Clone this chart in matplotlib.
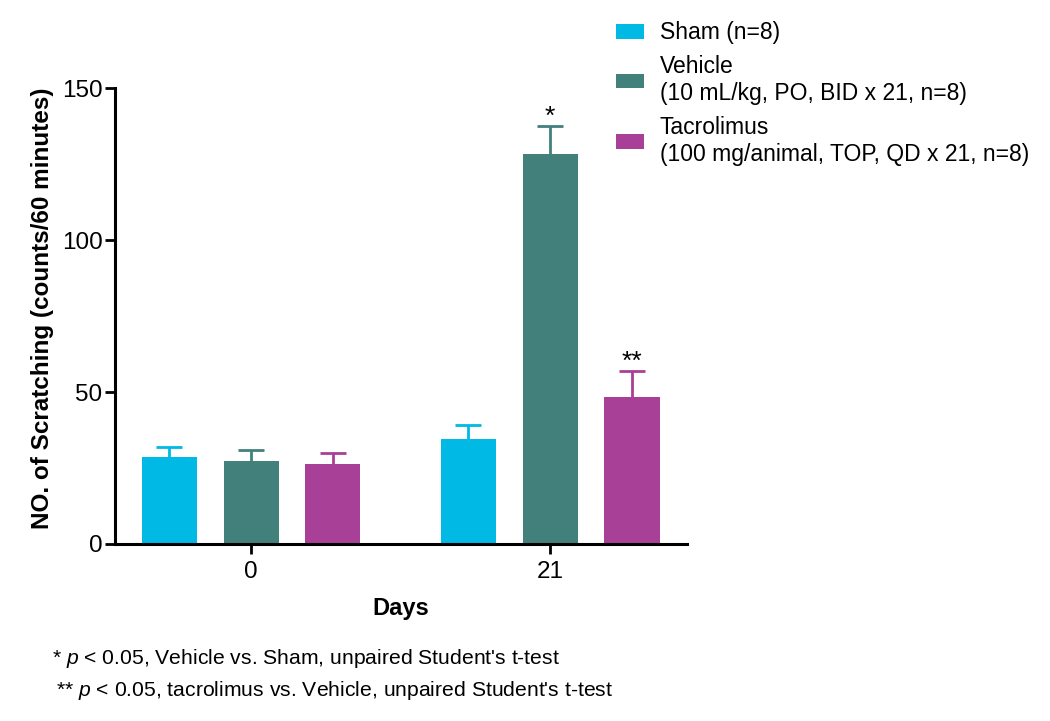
import matplotlib
matplotlib.use("Agg")
import matplotlib.pyplot as plt
import numpy as np

plt.rcParams['font.family'] = ['Liberation Sans', 'DejaVu Sans']
plt.rcParams['mathtext.fontset'] = 'custom'
plt.rcParams['mathtext.rm'] = 'Liberation Sans'
plt.rcParams['mathtext.it'] = 'Liberation Sans:italic'

# data
days = ['0', '21']
groups = ['Sham (n=8)',
          'Vehicle\n(10 mL/kg, PO, BID x 21, n=8)',
          'Tacrolimus\n(100 mg/animal, TOP, QD x 21, n=8)']
sham = [28.7, 34.4]
sham_err = [3.3, 4.7]
vehicle = [27.4, 128.3]
vehicle_err = [3.5, 9.2]
tacro = [26.3, 48.4]
tacro_err = [3.5, 8.5]
stars = [['', ''], ['', '*'], ['', '**']]

colors = ['#00B9E4', '#42807C', '#A94097']
means = [sham, vehicle, tacro]
errs = [sham_err, vehicle_err, tacro_err]

fig = plt.figure(figsize=(10.5, 7.21), dpi=100)
ax = fig.add_axes([0.1095, 0.2455, 0.5448, 0.6324])

x = np.arange(len(days))
offset = 0.274
width = 0.184
for i in range(3):
    xs = x + (i - 1) * offset
    ax.bar(xs, means[i], width, color=colors[i], label=groups[i], zorder=2)
    eb = ax.errorbar(xs, means[i], yerr=[np.zeros(len(days)), errs[i]], fmt='none',
                     ecolor=colors[i], elinewidth=2, capsize=9.5, capthick=2, zorder=1)
    eb[1][0].set_visible(False)  # no cap on the bar top
    for j in range(len(days)):
        if stars[i][j]:
            ax.text(xs[j], means[i][j] + errs[i][j] - 1.0, stars[i][j],
                    ha='center', va='bottom', fontsize=19)

ax.set_xlim(-0.455, 1.458)
ax.set_ylim(0, 150)
ax.set_yticks([0, 50, 100, 150])
ax.set_xticks(x)
ax.set_xticklabels(days)
for s in ['top', 'right']:
    ax.spines[s].set_visible(False)
for s in ['left', 'bottom']:
    ax.spines[s].set_linewidth(2.2)
ax.tick_params(axis='both', width=2, length=7, labelsize=17.5)
ax.tick_params(axis='y', pad=2)
ax.tick_params(axis='x', pad=5)
ax.set_xlabel('Days', fontsize=17, fontweight='bold', labelpad=10)
ax.set_ylabel('NO. of Scratching (counts/60 minutes)', fontsize=17.5,
              fontweight='bold')
ax.yaxis.set_label_coords(-0.107, 0.518)

leg = fig.legend(loc='upper left', bbox_to_anchor=(0.578, 0.983), frameon=False,
                 fontsize=16.5, handlelength=1.2, handleheight=0.6,
                 handletextpad=0.7, labelspacing=0.45, borderaxespad=0)
for t in leg.get_texts():
    t.set_linespacing(1.25)

fig.text(0.05, 1 - 658 / 721, "* $\\it{p}$ < 0.05, Vehicle vs. Sham, unpaired Student's t-test",
         fontsize=15.2, va='center', ha='left')
fig.text(0.053, 1 - 690 / 721, "** $\\it{p}$ < 0.05, tacrolimus vs. Vehicle, unpaired Student's t-test",
         fontsize=15.2, va='center', ha='left')

fig.savefig('out.png', dpi=100)
